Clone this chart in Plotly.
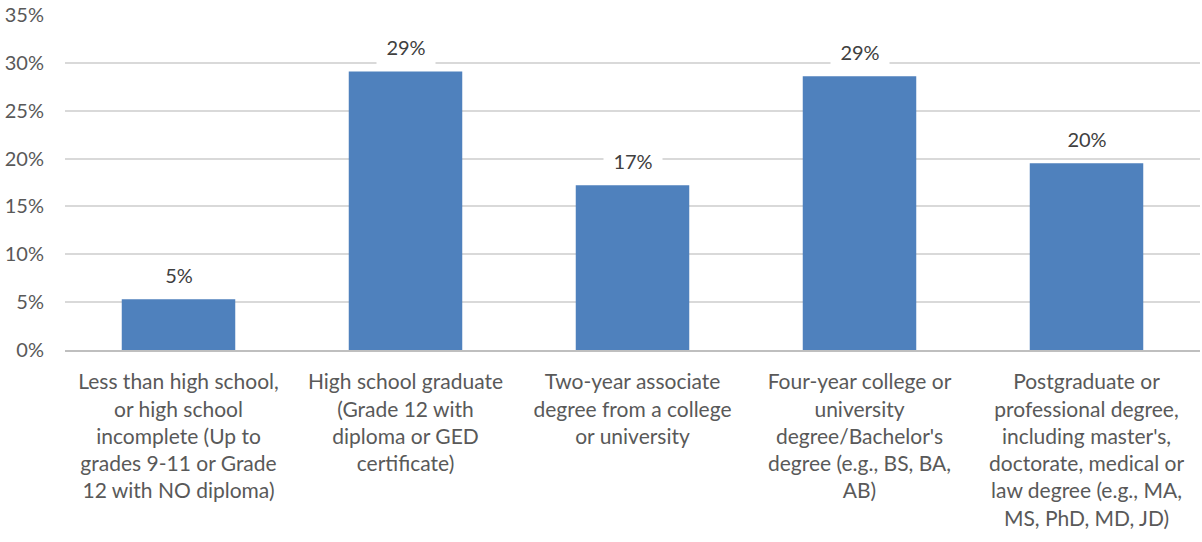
import plotly.graph_objects as go

# Education level categories (line breaks as shown on the axis)
categories = [
    "Less than high school,<br>or high school<br>incomplete (Up to<br>grades 9-11 or Grade<br>12 with NO diploma)",
    "High school graduate<br>(Grade 12 with<br>diploma or GED<br>certificate)",
    "Two-year associate<br>degree from a college<br>or university",
    "Four-year college or<br>university<br>degree/Bachelor's<br>degree (e.g., BS, BA,<br>AB)",
    "Postgraduate or<br>professional degree,<br>including master's,<br>doctorate, medical or<br>law degree (e.g., MA,<br>MS, PhD, MD, JD)",
]
shares = [0.053, 0.291, 0.172, 0.286, 0.195]
y_ticks = [0, 0.05, 0.10, 0.15, 0.20, 0.25, 0.30, 0.35]

FONT = "Lato"
BAR_COLOR = "#4F81BD"

fig = go.Figure(
    go.Bar(
        x=list(range(len(categories))),
        y=shares,
        marker=dict(color=BAR_COLOR, line=dict(width=0)),
        hoverinfo="skip",
    )
)

# Value labels on a white box so the gridline doesn't run through them
for i, v in enumerate(shares):
    fig.add_annotation(
        x=i, y=v, text=f"{round(v * 100):.0f}%",
        showarrow=False, yanchor="bottom", yshift=6,
        width=58, height=34, borderpad=0, bgcolor="white",
        font=dict(family=FONT, size=20, color="#404040"),
    )

fig.update_layout(
    width=1202, height=542,
    margin=dict(l=65, r=2, t=13, b=192),
    paper_bgcolor="white", plot_bgcolor="white",
    bargap=0.5, showlegend=False,
    font=dict(family=FONT, size=20, color="#595959"),
)
fig.update_xaxes(
    tickmode="array", tickvals=list(range(len(categories))), ticktext=categories,
    range=[-0.5, len(categories) - 0.5],
    showline=True, linecolor="#BFBFBF", linewidth=2,
    showgrid=False, ticks="", ticklabelstandoff=12,
    tickfont=dict(family=FONT, size=21, color="#595959"),
)
fig.update_yaxes(
    range=[0, 0.35], tickmode="array", tickvals=y_ticks, tickformat=".0%",
    showgrid=True, gridcolor="#D9D9D9", gridwidth=1.5, zeroline=False,
    ticks="", ticklabelstandoff=20,
    tickfont=dict(family=FONT, size=20, color="#595959"),
)

fig.write_html("out.html")
